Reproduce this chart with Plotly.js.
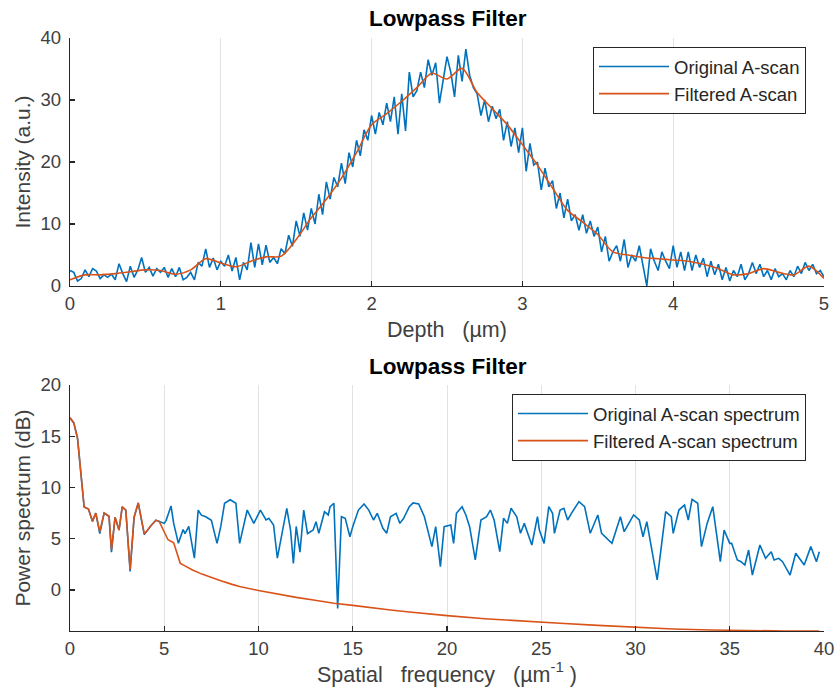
<!DOCTYPE html>
<html>
<head>
<meta charset="utf-8">
<script src="https://cdn.plot.ly/plotly-3.0.1.min.js"></script>
<style>
html,body{margin:0;padding:0;background:#fff;}
#chart{width:837px;height:697px;}
</style>
</head>
<body>
<div id="chart"></div>
<script>
// ---------- Data ----------
const depthStep = 0.025;   // µm, original A-scan sampling
const intensityOrig = [
2.5,2.2,0.8,1.2,2.6,1.5,2.8,2.4,1.2,1.8,
1.4,1.9,1.0,3.6,2.0,0.7,3.2,1.4,2.6,4.6,
2.2,3.0,1.6,2.8,2.2,3.0,1.4,2.8,1.5,3.0,
1.0,1.4,2.2,1.0,3.8,3.2,6.0,3.0,4.5,2.6,
4.0,3.2,5.0,2.4,4.6,1.0,3.8,2.6,7.0,3.0,
6.8,3.4,6.6,3.8,4.6,3.6,6.0,5.2,8.2,6.4,
10.5,8.0,11.8,9.0,12.5,10.0,14.8,11.5,16.8,14.0,
17.5,16.0,19.8,16.5,21.5,19.2,23.5,21.0,25.2,23.5,
27.5,24.5,28.0,26.0,29.5,26.5,30.5,24.5,31.0,25.0,
34.5,30.5,31.5,34.5,32.0,36.5,34.0,36.0,29.5,33.0,
37.0,34.5,30.5,37.2,33.0,38.2,34.0,32.0,31.0,27.5,
30.0,26.5,29.0,27.0,28.5,23.5,26.5,22.5,25.5,21.5,
25.5,18.5,23.0,19.5,20.0,15.5,19.0,16.0,17.0,12.5,
15.0,11.0,14.0,10.5,11.5,9.0,11.5,8.5,10.5,8.0,
9.5,5.5,8.0,4.0,5.5,6.5,4.0,7.5,3.0,5.0,
4.0,6.5,3.5,0.0,6.0,4.0,2.5,5.5,4.0,2.8,
6.5,3.0,5.5,2.5,5.5,2.5,5.0,3.0,4.5,1.5,
4.0,1.8,3.5,1.0,3.0,0.8,2.5,1.5,3.5,1.0,
2.0,3.8,2.0,3.5,1.5,2.5,1.0,2.8,1.5,2.0,
1.0,2.5,1.5,3.2,2.0,3.8,2.5,3.5,2.0,2.5,
1.5
];
const filtStep = 0.1;      // µm, filtered curve read-off spacing
const intensityFilt = [
1.0,1.8,1.8,2.0,2.3,2.6,2.5,1.9,2.6,4.4,
3.7,3.1,4.0,4.7,4.8,7.5,11.0,14.0,17.4,21.5,
26.0,27.8,29.8,32.0,34.3,33.4,35.1,31.2,28.6,26.0,
22.8,19.5,15.8,12.2,10.3,8.3,5.5,5.0,4.6,4.4,
4.2,4.0,3.5,2.8,1.8,2.0,2.8,2.2,1.8,3.2,
1.2
];
const depthOrig = intensityOrig.map((_, i) => +(i * depthStep).toFixed(3));
const depthFilt = intensityFilt.map((_, i) => +(i * filtStep).toFixed(2));

const freqOrig = [
0,0.2,0.4,0.5,0.6,0.75,0.98,1.19,1.37,1.58,1.81,2.07,2.2,2.39,2.6,2.77,2.96,3.19,3.4,3.62,3.94,4.06,4.3,4.56,4.73,
5.0,5.1,5.36,5.5,5.75,6.0,6.1,6.3,6.6,6.8,6.97,7.2,7.5,7.8,8.0,8.2,8.5,8.8,9.0,9.4,9.75,
10.1,10.4,10.55,10.8,11.0,11.3,11.5,11.7,11.85,12.0,12.2,12.4,12.6,12.9,13.05,13.2,13.5,13.7,13.8,14.0,14.2,14.4,14.6,14.85,
15.0,15.3,15.6,15.85,16.1,16.3,16.6,16.8,17.0,17.3,17.5,17.7,18.0,18.2,18.5,18.8,19.2,19.4,19.65,19.85,
20.2,20.35,20.5,20.8,21.0,21.2,21.5,21.8,22.1,22.3,22.5,22.8,23.0,23.2,23.4,23.7,23.9,24.1,24.5,24.8,24.9,
25.15,25.4,25.6,25.7,26.0,26.2,26.4,26.6,27.0,27.3,27.6,28.0,28.2,28.75,29.2,29.4,29.9,
30.2,30.4,30.6,31.15,31.6,31.9,32.0,32.3,32.6,32.8,33.0,33.3,33.5,33.8,34.1,34.5,34.7,
35.0,35.1,35.4,35.6,35.8,36.0,36.2,36.5,36.6,36.9,37.2,37.35,37.6,37.8,38.2,38.5,38.95,39.3,39.6,39.75
];
const powerOrig = [
16.8,16.3,14.8,13.0,11.0,8.1,7.9,6.7,7.5,5.5,7.5,7.2,3.7,7.1,5.85,8.1,7.8,1.8,7.1,8.5,5.4,5.7,6.3,6.8,6.7,
6.5,6.8,8.2,6.5,4.55,5.9,5.5,6.2,3.1,7.8,7.3,7.15,6.8,4.55,6.2,8.46,8.8,8.46,4.55,7.8,6.5,
7.8,6.83,7.0,6.34,3.1,6.2,7.97,5.85,2.6,6.2,3.7,7.8,5.5,5.85,6.67,5.53,7.64,7.32,8.13,8.46,-1.79,7.15,6.99,5.2,
6.18,7.8,8.39,7.8,6.83,7.48,6.02,5.53,7.15,7.48,6.5,6.99,8.13,8.5,8.4,7.15,4.23,6.18,2.28,6.18,
6.34,4.55,7.48,8.13,7.32,6.18,2.93,6.83,7.15,7.8,6.83,3.74,6.99,6.5,7.97,7.15,5.53,6.5,4.39,7.15,5.85,
4.55,8.13,7.48,5.53,7.8,7.97,6.83,7.48,8.62,8.13,5.53,7.32,5.53,4.55,7.15,5.69,7.32,
6.83,5.2,6.67,0.98,7.64,7.15,5.53,7.8,8.29,6.83,8.85,8.46,4.23,6.5,8.13,2.76,5.85,
4.55,4.55,2.93,2.76,2.44,3.9,1.46,3.9,4.39,3.09,3.74,2.93,3.09,2.76,1.46,3.58,2.44,4.23,2.76,3.74
];
const freqFilt = [
0,0.2,0.4,0.5,0.6,0.75,0.98,1.19,1.37,1.58,1.81,2.07,2.2,2.39,2.6,2.77,2.96,3.19,3.4,3.62,3.94,4.06,4.3,4.56,4.73,
4.9,5.2,5.5,5.85,6.0,6.5,7,7.5,8,8.6,9,10,11,12,13,14,15,16,17,18,19,20,22,24,25,26,28,30,32,34,36,38,39.75
];
const powerFilt = [
16.8,16.3,14.8,13.0,11.0,8.1,7.9,6.7,7.5,5.7,7.5,7.2,3.9,7.1,5.85,8.1,7.8,2.0,7.1,8.5,5.5,5.7,6.3,6.8,6.7,
6.1,4.9,4.6,2.6,2.45,1.95,1.55,1.2,0.9,0.55,0.35,-0.05,-0.4,-0.72,-1.0,-1.3,-1.5,-1.75,-1.95,-2.15,-2.35,-2.5,-2.8,-3.05,-3.15,-3.25,-3.45,-3.65,-3.8,-3.9,-3.96,-4.0,-4.0
];

const titleText = 'Lowpass Filter';
const legendTop = ['Original A-scan', 'Filtered A-scan'];
const legendBottom = ['Original A-scan spectrum', 'Filtered A-scan spectrum'];
const topTicks = [0,1,2,3,4,5];
const topYTicks = [0,10,20,30,40];
const botTicks = [0,5,10,15,20,25,30,35,40];
const botYTicks = [0,5,10,15,20];

// ---------- Styling ----------
const BLUE = '#0072BD', ORANGE = '#D95319';
const FONT = 'Liberation Sans, Arial, Helvetica, sans-serif';
const AX = '#262626', TICKC = '#404040';
const H = 697;
const topDom = [1 - 286/H, 1 - 38/H];
const botDom = [1 - 631/H, 1 - 385/H];

function xAxis(ticks, range, title, anchor, standoff) {
  return {
    range: range, tickvals: ticks, ticktext: ticks.map(String),
    showline: true, linecolor: AX, linewidth: 1.3, mirror: false,
    ticks: 'inside', ticklen: 5, tickcolor: AX, tickwidth: 1.3,
    showgrid: true, gridcolor: '#e2e2e2', gridwidth: 1, zeroline: false,
    tickfont: {family: FONT, size: 18.5, color: TICKC},
    title: {text: title, font: {family: FONT, size: 21.5, color: TICKC}, standoff: standoff},
    anchor: anchor, fixedrange: true
  };
}
function yAxis(ticks, range, title, domain, anchor) {
  return {
    range: range, tickvals: ticks, ticktext: ticks.map(String), domain: domain,
    showline: true, linecolor: AX, linewidth: 1.3,
    ticks: 'inside', ticklen: 5, tickcolor: AX, tickwidth: 1.3,
    showgrid: false, zeroline: false, ticklabelstandoff: 4,
    tickfont: {family: FONT, size: 18.5, color: TICKC},
    title: {text: title, font: {family: FONT, size: 21, color: TICKC}, standoff: 4},
    anchor: anchor, fixedrange: true
  };
}

const traces = [
  {x: depthOrig, y: intensityOrig, type: 'scatter', mode: 'lines', name: legendTop[0],
   line: {color: BLUE, width: 1.6}, xaxis: 'x', yaxis: 'y', legend: 'legend'},
  {x: depthFilt, y: intensityFilt, type: 'scatter', mode: 'lines', name: legendTop[1],
   line: {color: ORANGE, width: 1.6, shape: 'spline', smoothing: 0.8}, xaxis: 'x', yaxis: 'y', legend: 'legend'},
  {x: freqOrig, y: powerOrig, type: 'scatter', mode: 'lines', name: legendBottom[0],
   line: {color: BLUE, width: 1.6}, xaxis: 'x2', yaxis: 'y2', legend: 'legend2'},
  {x: freqFilt, y: powerFilt, type: 'scatter', mode: 'lines', name: legendBottom[1],
   line: {color: ORANGE, width: 1.6}, xaxis: 'x2', yaxis: 'y2', legend: 'legend2'}
];

const legendStyle = {
  bgcolor: '#ffffff', bordercolor: AX, borderwidth: 1,
  font: {family: FONT, size: 18.5, color: '#262626'},
  xanchor: 'right', yanchor: 'top', itemwidth: 70, tracegroupgap: 0,
  itemclick: false, itemdoubleclick: false
};

const layout = {
  width: 837, height: 697,
  margin: {l: 70, r: 13, t: 0, b: 0},
  paper_bgcolor: '#ffffff', plot_bgcolor: '#ffffff',
  showlegend: true,
  xaxis: xAxis(topTicks, [0, 5], 'Depth\u00a0\u00a0 (µm)', 'y', 9),
  yaxis: yAxis(topYTicks, [0, 40], 'Intensity (a.u.)', topDom, 'x'),
  xaxis2: xAxis(botTicks, [0, 40], 'Spatial\u00a0\u00a0 frequency\u00a0\u00a0 (µm<sup>-1</sup>\u00a0)', 'y2', 2),
  yaxis2: yAxis(botYTicks, [-4, 20], 'Power spectrum (dB)', botDom, 'x2'),
  legend: Object.assign({}, legendStyle, {x: (806 - 70) / 754, y: 1 - 47 / H}),
  legend2: Object.assign({}, legendStyle, {x: (806 - 70) / 754, y: 1 - 394 / H}),
  annotations: [
    {text: '<b>' + titleText + '</b>', xref: 'paper', yref: 'paper',
     x: (448 - 70) / 754, y: 1 - 19 / H, xanchor: 'center', yanchor: 'middle', showarrow: false,
     font: {family: FONT, size: 22.5, color: '#000000'}},
    {text: '<b>' + titleText + '</b>', xref: 'paper', yref: 'paper',
     x: (448 - 70) / 754, y: 1 - 366 / H, xanchor: 'center', yanchor: 'middle', showarrow: false,
     font: {family: FONT, size: 22.5, color: '#000000'}}
  ]
};

Plotly.newPlot('chart', traces, layout, {displayModeBar: false, staticPlot: true});
</script>
</body>
</html>
